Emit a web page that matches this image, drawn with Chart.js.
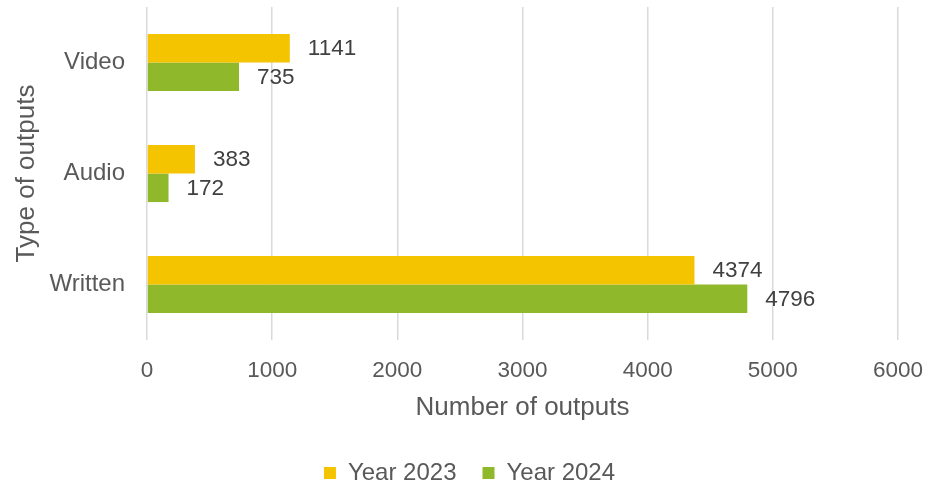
<!DOCTYPE html>
<html>
<head>
    <title>Type of outputs</title>
    <script src="https://cdn.jsdelivr.net/npm/chart.js"></script>
    <style>
        html, body { margin: 0; padding: 0; background: #fff; }
        #wrap { width: 942px; height: 486px; }
    </style>
</head>
<body>
    <div id="wrap"><canvas id="outputsChart"></canvas></div>

    <script>
    const categories = ['Video', 'Audio', 'Written'];
    const year2023 = [1141, 383, 4374];
    const year2024 = [735, 172, 4796];
    const seriesNames = ['Year 2023', 'Year 2024'];
    const xTicks = [0, 1000, 2000, 3000, 4000, 5000, 6000];

    const fontFamily = '"Liberation Sans", Arial, sans-serif';
    const textGray = '#595959';

    // valores à direita de cada barra
    const valueLabels = {
        id: 'valueLabels',
        afterDatasetsDraw(chart) {
            const ctx = chart.ctx;
            ctx.save();
            ctx.font = '22.5px ' + fontFamily;
            ctx.fillStyle = '#404040';
            ctx.textAlign = 'left';
            ctx.textBaseline = 'middle';
            chart.data.datasets.forEach((ds, i) => {
                chart.getDatasetMeta(i).data.forEach((bar, j) => {
                    ctx.fillText(String(ds.data[j]), bar.x + 18, bar.y + 1);
                });
            });
            ctx.restore();
        }
    };

    new Chart(document.getElementById('outputsChart'), {
        type: 'bar',
        data: {
            labels: categories,
            datasets: [
                {
                    label: seriesNames[0],
                    data: year2023,
                    backgroundColor: '#F5C400',
                    categoryPercentage: 0.515,
                    barPercentage: 1
                },
                {
                    label: seriesNames[1],
                    data: year2024,
                    backgroundColor: '#8FB82B',
                    categoryPercentage: 0.515,
                    barPercentage: 1
                }
            ]
        },
        options: {
            indexAxis: 'y',
            responsive: true,
            maintainAspectRatio: false,
            animation: false,
            // padding esquerda/direita quase igual para a legenda ficar centrada como no original
            layout: { padding: { left: 41, right: 44, top: 7, bottom: -9 } },
            scales: {
                x: {
                    min: 0,
                    max: 6000,
                    afterBuildTicks: axis => { axis.ticks = xTicks.map(v => ({ value: v })); },
                    afterFit: axis => { axis.height = 95; },
                    grid: { color: '#D9D9D9', lineWidth: 1.5, drawTicks: false },
                    border: { display: false },
                    ticks: {
                        padding: 17,
                        color: textGray,
                        font: { size: 22.5, family: fontFamily },
                        callback: v => String(v)
                    },
                    title: {
                        display: true,
                        text: 'Number of outputs',
                        color: textGray,
                        font: { size: 26, family: fontFamily },
                        padding: { top: 0, bottom: 12 }
                    }
                },
                y: {
                    afterFit: axis => {
                        axis.width = 106;
                        axis.paddingTop = 0;
                        axis.paddingBottom = 0;
                    },
                    grid: { display: false, drawTicks: false },
                    border: { display: false },
                    ticks: { padding: 22, color: textGray, font: { size: 24, family: fontFamily } },
                    title: {
                        display: true,
                        text: 'Type of outputs',
                        color: textGray,
                        font: { size: 26, family: fontFamily },
                        padding: { top: -29.6, bottom: 0 }
                    }
                }
            },
            plugins: {
                legend: {
                    position: 'bottom',
                    labels: {
                        boxWidth: 12,
                        boxHeight: 12,
                        padding: 26,
                        color: textGray,
                        font: { size: 24, family: fontFamily }
                    }
                },
                tooltip: { enabled: false }
            }
        },
        plugins: [valueLabels]
    });
    </script>
</body>
</html>
